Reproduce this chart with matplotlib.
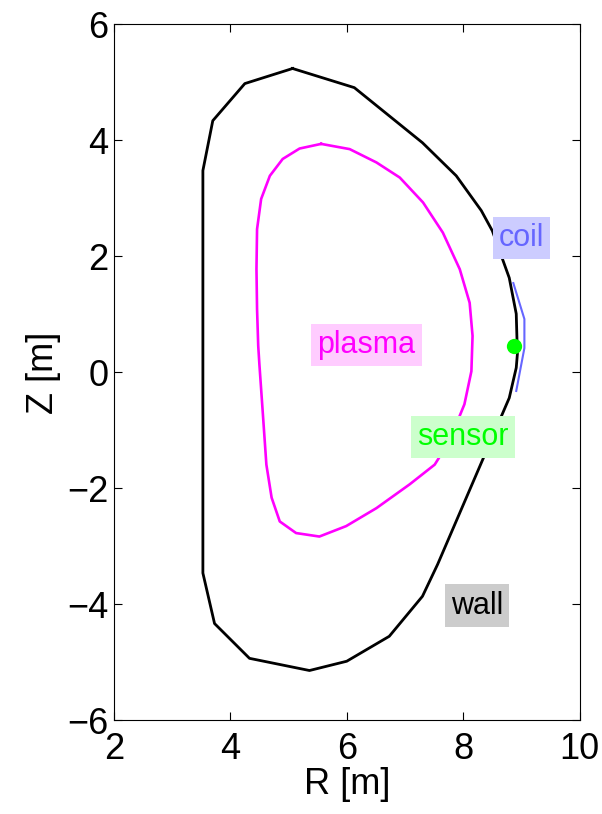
import numpy as np
import matplotlib
matplotlib.use("Agg")
import matplotlib.pyplot as plt

plt.rcParams['font.family'] = ['Liberation Sans', 'DejaVu Sans']

# vessel wall (R, Z)
wall_R = [5.07, 6.13, 7.30, 7.88, 8.31, 8.50, 8.79, 8.91, 8.93, 8.91, 8.79, 8.67,
          7.56, 7.30, 6.73, 6.00, 5.36, 4.33, 3.73, 3.53, 3.53, 3.70, 4.25, 5.07]
wall_Z = [5.24, 4.91, 3.96, 3.39, 2.79, 2.44, 1.63, 1.01, 0.32, 0.08, -0.44, -0.72,
          -3.31, -3.86, -4.55, -4.98, -5.14, -4.93, -4.33, -3.46, 3.48, 4.34, 4.98, 5.24]

# plasma boundary
plasma_R = [5.56, 6.05, 6.51, 6.91, 7.31, 7.65, 7.94, 8.11, 8.16, 8.14, 8.02, 7.76,
            7.51, 7.08, 6.51, 5.99, 5.53, 5.13, 4.85, 4.71, 4.62, 4.56, 4.50, 4.48,
            4.46, 4.45, 4.46, 4.53, 4.68, 4.90, 5.19, 5.56]
plasma_Z = [3.94, 3.85, 3.62, 3.36, 2.93, 2.41, 1.78, 1.20, 0.63, 0.02, -0.55, -1.19,
            -1.59, -1.93, -2.34, -2.65, -2.83, -2.77, -2.57, -2.16, -1.59, -0.72, 0.14, 0.46,
            1.09, 1.78, 2.47, 2.99, 3.39, 3.68, 3.86, 3.94]

# coil
coil_R = [8.86, 9.05, 9.05, 8.91]
coil_Z = [1.54, 0.92, 0.42, -0.32]

# magnetic sensor
sensor_R = 8.88
sensor_Z = 0.46

fig = plt.figure(figsize=(6.02, 8.14), dpi=100)
ax = fig.add_axes([0.189, 0.115, 0.774, 0.855])

ax.plot(wall_R, wall_Z, color='black', lw=2.0)
ax.plot(plasma_R, plasma_Z, color='#ff00ff', lw=1.9)
ax.plot(coil_R, coil_Z, color='#6666ff', lw=1.5)
ax.plot(sensor_R, sensor_Z, 'o', color='#00ff00', markersize=11, markeredgewidth=0)

box = 'square,pad=0.2'
ax.text(9.0, 2.32, 'coil', color='#6666ff', fontsize=22, ha='center', va='center',
        bbox=dict(boxstyle=box, fc='#ccccff', ec='none'))
ax.text(6.34, 0.47, 'plasma', color='#ff00ff', fontsize=22, ha='center', va='center',
        bbox=dict(boxstyle=box, fc='#ffccff', ec='none'))
ax.text(7.99, -1.12, 'sensor', color='#00ff00', fontsize=22, ha='center', va='center',
        bbox=dict(boxstyle=box, fc='#ccffcc', ec='none'))
ax.text(8.24, -4.02, 'wall', color='black', fontsize=22, ha='center', va='center',
        bbox=dict(boxstyle=box, fc='#cccccc', ec='none'))

ax.set_xlim(2, 10)
ax.set_ylim(-6, 6)
ax.set_xticks([2, 4, 6, 8, 10])
ax.set_yticks([-6, -4, -2, 0, 2, 4, 6])
ax.tick_params(direction='in', length=6, width=0.8, top=True, right=True,
               labelsize=26, pad=4)
ax.tick_params(axis='x', pad=8)
ax.set_xlabel('R [m]', fontsize=26, labelpad=0)
ax.set_ylabel('Z [m]', fontsize=26, labelpad=4)

fig.savefig('out.png', dpi=100)
